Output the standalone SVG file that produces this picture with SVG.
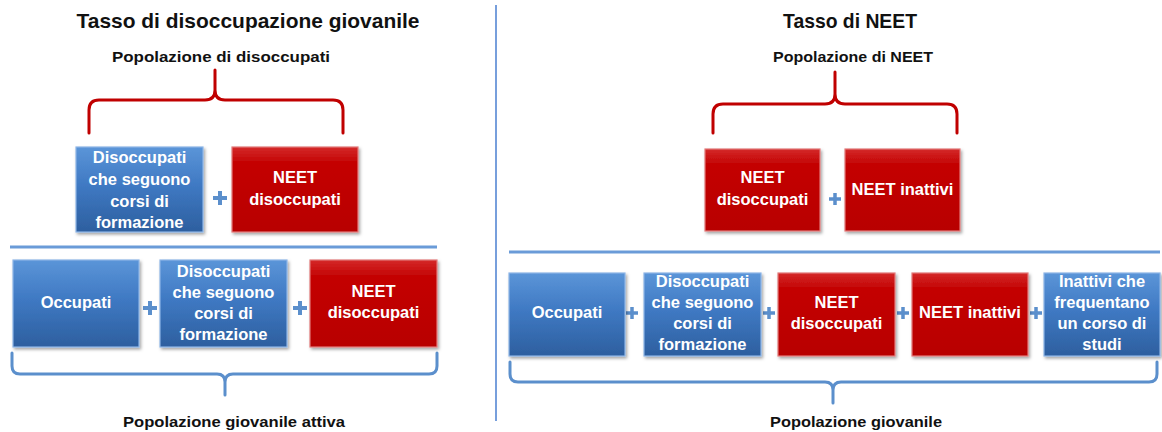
<svg xmlns="http://www.w3.org/2000/svg" width="1162" height="432" viewBox="0 0 1162 432">
<defs>
<linearGradient id="gBlue" x1="0" y1="0" x2="0" y2="1">
<stop offset="0" stop-color="#5b95d8"/>
<stop offset="0.45" stop-color="#3f79c3"/>
<stop offset="1" stop-color="#2d5f9f"/>
</linearGradient>
<linearGradient id="gRed" x1="0" y1="0" x2="0" y2="1">
<stop offset="0" stop-color="#d42a2a"/>
<stop offset="0.18" stop-color="#c40404"/>
<stop offset="1" stop-color="#b80000"/>
</linearGradient>
<filter id="sh" x="-10%" y="-10%" width="125%" height="130%">
<feDropShadow dx="1.5" dy="2" stdDeviation="1.5" flood-color="#000" flood-opacity="0.35"/>
</filter>
</defs>
<style>
.blue{fill:url(#gBlue);stroke:#8db5e6;stroke-width:1.2;filter:url(#sh)}
.red{fill:url(#gRed);stroke:#e27a7a;stroke-width:1.2;filter:url(#sh)}
.bt{font-family:"Liberation Sans",Arial,sans-serif;font-weight:bold;font-size:16.5px;fill:#fff;text-anchor:middle}
.title{font-family:"Liberation Sans",Arial,sans-serif;font-weight:bold;fill:#111;text-anchor:middle}
.rb{fill:none;stroke:#c00000;stroke-width:3;stroke-linecap:round;stroke-linejoin:round}
.bb{fill:none;stroke:#5b8fcc;stroke-width:3;stroke-linecap:round;stroke-linejoin:round}
.hl{stroke:#6a9bd8;stroke-width:3}
.plus{stroke:#5b8fcc;stroke-width:4;fill:none}
.plus2{stroke:#5b8fcc;stroke-width:3.5;fill:none}
</style>

<g id="separator">
<line x1="496" y1="5" x2="496" y2="421" stroke="#4a7fd0" stroke-width="1.5"/>
</g>

<g id="titles">
<text class="title" x="248" y="28" font-size="21" textLength="343" lengthAdjust="spacingAndGlyphs">Tasso di disoccupazione giovanile</text>
<text class="title" x="221" y="62" font-size="15" textLength="218" lengthAdjust="spacingAndGlyphs">Popolazione di disoccupati</text>
<text class="title" x="234" y="427" font-size="15" textLength="222" lengthAdjust="spacingAndGlyphs">Popolazione giovanile attiva</text>
<text class="title" x="850" y="28" font-size="21" textLength="134" lengthAdjust="spacingAndGlyphs">Tasso di NEET</text>
<text class="title" x="853" y="62" font-size="15" textLength="160" lengthAdjust="spacingAndGlyphs">Popolazione di NEET</text>
<text class="title" x="856" y="427" font-size="15" textLength="172" lengthAdjust="spacingAndGlyphs">Popolazione giovanile</text>
</g>

<g id="connectors">
<path class="rb" d="M89,133 V110 Q89,100 99,100 H205 Q215,100 215,90 V70 M215,90 Q215,100 225,100 H333 Q343,100 343,110 V133"/>
<path class="rb" d="M713,133 V114 Q713,104 723,104 H825 Q835,104 835,94 V72 M835,94 Q835,104 845,104 H947 Q957,104 957,114 V133"/>
<path class="bb" d="M12,353 V366 Q12,374 20,374 H217 Q225,374 225,382 V395 M225,382 Q225,374 233,374 H429 Q437,374 437,366 V353"/>
<path class="bb" d="M510,362 V374 Q510,382 518,382 H825 Q833,382 833,390 V403 M833,390 Q833,382 841,382 H1149 Q1157,382 1157,374 V362"/>
<line class="hl" x1="10" y1="247" x2="437" y2="247"/>
<line class="hl" x1="509" y1="252" x2="1160" y2="252"/>
</g>

<g id="operators">
<path class="plus" d="M213,198 H227 M220,191 V205"/>
<path class="plus" d="M143,308 H157 M150,301 V315"/>
<path class="plus" d="M293,308 H307 M300,301 V315"/>
<path class="plus2" d="M829,199 H841 M835,193 V205"/>
<path class="plus2" d="M626,313 H638 M632,307 V319"/>
<path class="plus2" d="M763,313 H775 M769,307 V319"/>
<path class="plus2" d="M897,313 H909 M903,307 V319"/>
<path class="plus2" d="M1030,313 H1042 M1036,307 V319"/>
</g>

<g id="L-top-disoccupati">
<rect class="blue" x="76" y="147" width="127" height="85"/>
<text class="bt" x="139.5" y="163">Disoccupati</text>
<text class="bt" x="139.5" y="185">che seguono</text>
<text class="bt" x="139.5" y="207">corsi di</text>
<text class="bt" x="139.5" y="228">formazione</text>
</g>
<g id="L-top-neet-disoccupati">
<rect class="red" x="232" y="147" width="126" height="85"/>
<text class="bt" x="295" y="183">NEET</text>
<text class="bt" x="295" y="205">disoccupati</text>
</g>

<g id="L-bot-occupati">
<rect class="blue" x="13" y="260" width="126" height="87"/>
<text class="bt" x="76" y="308">Occupati</text>
</g>
<g id="L-bot-disoccupati">
<rect class="blue" x="160" y="260" width="127" height="87"/>
<text class="bt" x="223.5" y="277">Disoccupati</text>
<text class="bt" x="223.5" y="298">che seguono</text>
<text class="bt" x="223.5" y="319">corsi di</text>
<text class="bt" x="223.5" y="340">formazione</text>
</g>
<g id="L-bot-neet-disoccupati">
<rect class="red" x="310" y="260" width="127" height="87"/>
<text class="bt" x="373.5" y="297">NEET</text>
<text class="bt" x="373.5" y="318">disoccupati</text>
</g>

<g id="R-top-neet-disoccupati">
<rect class="red" x="705" y="149" width="115" height="82"/>
<text class="bt" x="762.5" y="183">NEET</text>
<text class="bt" x="762.5" y="205">disoccupati</text>
</g>
<g id="R-top-neet-inattivi">
<rect class="red" x="845" y="149" width="115" height="82"/>
<text class="bt" x="902.5" y="195">NEET inattivi</text>
</g>

<g id="R-bot-occupati">
<rect class="blue" x="509" y="273" width="116" height="83"/>
<text class="bt" x="567" y="318">Occupati</text>
</g>
<g id="R-bot-disoccupati">
<rect class="blue" x="644" y="273" width="117" height="83"/>
<text class="bt" x="702.5" y="287">Disoccupati</text>
<text class="bt" x="702.5" y="308">che seguono</text>
<text class="bt" x="702.5" y="329">corsi di</text>
<text class="bt" x="702.5" y="350">formazione</text>
</g>
<g id="R-bot-neet-disoccupati">
<rect class="red" x="778" y="273" width="117" height="83"/>
<text class="bt" x="836.5" y="308">NEET</text>
<text class="bt" x="836.5" y="329">disoccupati</text>
</g>
<g id="R-bot-neet-inattivi">
<rect class="red" x="912" y="273" width="116" height="83"/>
<text class="bt" x="970" y="318">NEET inattivi</text>
</g>
<g id="R-bot-inattivi-studi">
<rect class="blue" x="1044" y="273" width="116" height="83"/>
<text class="bt" x="1102" y="287">Inattivi che</text>
<text class="bt" x="1102" y="308">frequentano</text>
<text class="bt" x="1102" y="329">un corso di</text>
<text class="bt" x="1102" y="350">studi</text>
</g>
</svg>
